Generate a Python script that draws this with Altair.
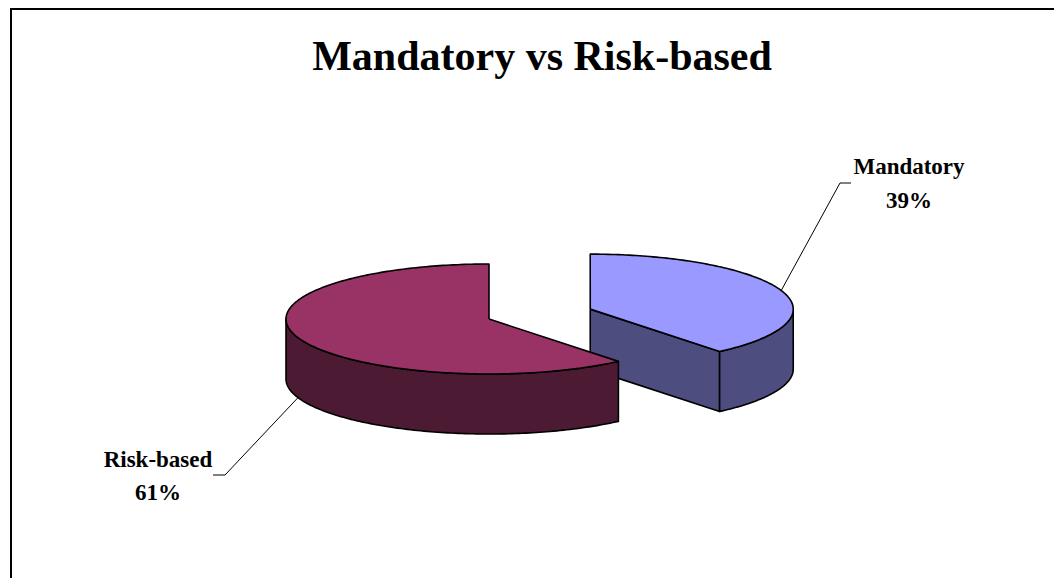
import math
import numpy as np
import pandas as pd
import altair as alt

# ---- data ----
categories = ["Mandatory", "Risk-based"]
values = [39, 61]
top_colors = ["#9999FF", "#993366"]
side_colors = ["#4D4D80", "#4D1A33"]
title_text = "Mandatory vs Risk-based"

# ---- layout constants (pixels of the plot area) ----
W, H = 1046, 570
CX, CY = 481, 311          # pie centre
RX, RY = 203, 55           # ellipse radii of the top face
DEPTH = 60                 # thickness of the pie
EXPLODE = {"Mandatory": 0.53}
LABELS = {
    "Mandatory": dict(x=901, y1=166, y2=200, elbow=(832, 175), end=(843, 175), attach=0),
    "Risk-based": dict(x=150, y1=459, y2=492, elbow=(217, 467), end=(205, 467), attach=1),
}
FONT = "Liberation Serif"

total = float(sum(values))


def pt(cx, cy, th, z):
    r = math.radians(th)
    return (cx + RX * math.sin(r), cy - RY * math.cos(r) + z * DEPTH)


def arc(cx, cy, a, b, z):
    n = max(2, int(abs(b - a)) + 1)
    return [pt(cx, cy, t, z) for t in np.linspace(a, b, n)]


polys = []      # (pid, part, points)
leaders = []
label_rows = []
start = 0.0
for i, (cat, v) in enumerate(zip(categories, values)):
    span = v / total * 360.0
    a, b = start, start + span
    mid = (a + b) / 2
    d = EXPLODE.get(cat, 0.0)
    r = math.radians(mid)
    cx = CX + d * RX * math.sin(r)
    cy = CY - d * RY * math.cos(r)
    c0 = (cx, cy)
    c1 = (cx, cy + DEPTH)
    side = f"{cat} side"
    top = f"{cat} top"
    # radial face at the end edge (visible when facing the viewer)
    if 0 < b < 180:
        e0 = pt(cx, cy, b, 0)
        e1 = pt(cx, cy, b, 1)
        polys.append((f"{cat}-rb", side, [c0, e0, e1, c1, c0]))
    if 180 < a < 360:
        e0 = pt(cx, cy, a, 0)
        e1 = pt(cx, cy, a, 1)
        polys.append((f"{cat}-ra", side, [c0, e0, e1, c1, c0]))
    # front curved wall
    fa, fb = max(a, 90.0), min(b, 270.0)
    if fb > fa:
        pts = arc(cx, cy, fa, fb, 0) + arc(cx, cy, fb, fa, 1)
        pts.append(pts[0])
        polys.append((f"{cat}-wall", side, pts))
    # top face
    pts = [c0] + arc(cx, cy, a, b, 0) + [c0]
    polys.append((f"{cat}-top", top, pts))

    # leader line + label
    L = LABELS[cat]
    s = pt(cx, cy, mid, L["attach"])
    for k, p in enumerate([s, L["elbow"], L["end"]]):
        leaders.append({"label": cat, "order": k, "x": p[0], "y": p[1]})
    label_rows.append({"text": cat, "x": L["x"], "y": L["y1"]})
    label_rows.append({"text": f"{round(v / total * 100)}%", "x": L["x"], "y": L["y2"]})
    start = b

rows = []
for pid, part, pts in polys:
    for k, (x, y) in enumerate(pts):
        rows.append({"pid": pid, "part": part, "order": k, "x": x, "y": y})
shape_df = pd.DataFrame(rows)
leader_df = pd.DataFrame(leaders)
label_df = pd.DataFrame(label_rows)

part_domain = [f"{c} top" for c in categories] + [f"{c} side" for c in categories]
part_range = top_colors + side_colors

xs = alt.Scale(domain=[0, W], zero=False, nice=False)
ys = alt.Scale(domain=[0, H], zero=False, nice=False, reverse=True)

layers = []
for pid, part, pts in polys:
    layers.append(
        alt.Chart(shape_df)
        .transform_filter(alt.datum.pid == pid)
        .mark_line(stroke="black", strokeWidth=1.6, strokeJoin="round")
        .encode(
            x=alt.X("x:Q", scale=xs, axis=None),
            y=alt.Y("y:Q", scale=ys, axis=None),
            order="order:Q",
            fill=alt.Fill("part:N", scale=alt.Scale(domain=part_domain, range=part_range), legend=None),
        )
    )

leader_layer = (
    alt.Chart(leader_df)
    .mark_line(stroke="black", strokeWidth=1)
    .encode(
        x=alt.X("x:Q", scale=xs, axis=None),
        y=alt.Y("y:Q", scale=ys, axis=None),
        order="order:Q",
        detail="label:N",
    )
)

label_layer = (
    alt.Chart(label_df)
    .mark_text(font=FONT, fontSize=23, fontWeight="bold", align="center", baseline="alphabetic", color="black")
    .encode(
        x=alt.X("x:Q", scale=xs, axis=None),
        y=alt.Y("y:Q", scale=ys, axis=None),
        text="text:N",
    )
)

title_layer = (
    alt.Chart(pd.DataFrame({"t": [title_text]}))
    .mark_text(font=FONT, fontSize=42, fontWeight="bold", align="center", baseline="alphabetic", color="black")
    .encode(x=alt.value(534), y=alt.value(62), text="t:N")
)

one = pd.DataFrame({"a": [0]})
border_left = alt.Chart(one).mark_rule(color="black", strokeWidth=2).encode(
    x=alt.value(3), y=alt.value(0), y2=alt.value(H)
)
border_top = alt.Chart(one).mark_rule(color="black", strokeWidth=2).encode(
    x=alt.value(3), x2=alt.value(W), y=alt.value(1)
)

chart = (
    alt.layer(*layers, leader_layer, label_layer, title_layer, border_left, border_top)
    .properties(width=W, height=H, padding=0, autosize="none")
    .configure_view(stroke=None)
)

chart.save("out.html", embed_options={"renderer": "svg", "actions": False})
